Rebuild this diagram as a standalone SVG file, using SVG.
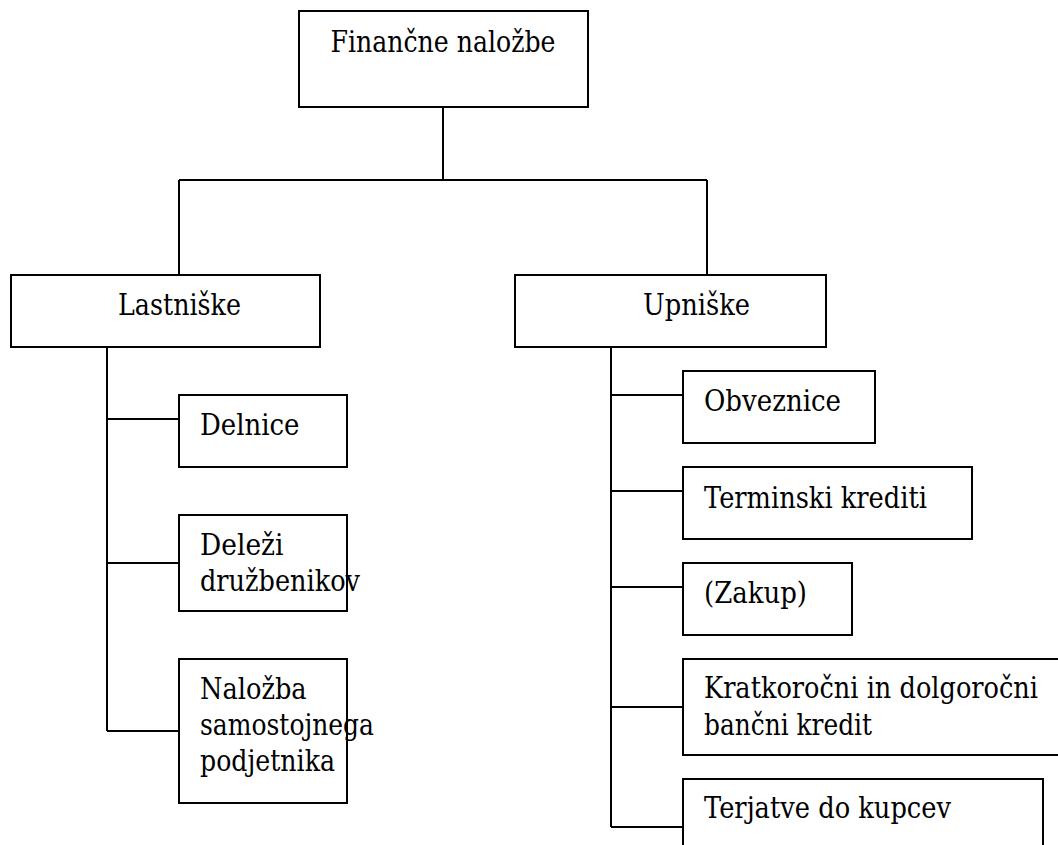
<svg xmlns="http://www.w3.org/2000/svg" width="1058" height="845" viewBox="0 0 1058 845">
<style>
.box{fill:#fff;stroke:#000;stroke-width:2}
.ln{fill:none;stroke:#000;stroke-width:2}
.t{font-family:'DejaVu Serif',serif;font-size:29px;fill:#000}
.c{text-anchor:middle}
</style>
<rect width="1058" height="845" fill="#fff"/>
<g id="connectors">
<path class="ln" d="M443 107V180M179 180H707M179 180V275M707 180V275"/>
<path class="ln" d="M107 347V731M107 419H179M107 563H179M107 731H179"/>
<path class="ln" d="M611 347V827M611 395H683M611 491H683M611 587H683M611 707H683M611 827H683"/>
</g>
<g id="n-financne"><rect class="box" x="299" y="11" width="289" height="96"/><text class="t c" x="443" y="52" textLength="225" lengthAdjust="spacingAndGlyphs">Finančne naložbe</text></g>
<g id="n-lastniske"><rect class="box" x="11" y="275" width="309" height="72"/><text class="t" x="118" y="315" textLength="123" lengthAdjust="spacingAndGlyphs">Lastniške</text></g>
<g id="n-upniske"><rect class="box" x="515" y="275" width="311" height="72"/><text class="t" x="643" y="315" textLength="107" lengthAdjust="spacingAndGlyphs">Upniške</text></g>
<g id="n-delnice"><rect class="box" x="179" y="395" width="168" height="72"/><text class="t" x="200" y="435" textLength="99.5" lengthAdjust="spacingAndGlyphs">Delnice</text></g>
<g id="n-delezi"><rect class="box" x="179" y="515" width="168" height="96"/><text class="t" x="200" y="555" textLength="83.5" lengthAdjust="spacingAndGlyphs">Deleži</text><text class="t" x="200" y="591" textLength="160" lengthAdjust="spacingAndGlyphs">družbenikov</text></g>
<g id="n-nalozba"><rect class="box" x="179" y="659" width="168" height="144"/><text class="t" x="200" y="699" textLength="106.6" lengthAdjust="spacingAndGlyphs">Naložba</text><text class="t" x="200" y="735" textLength="174" lengthAdjust="spacingAndGlyphs">samostojnega</text><text class="t" x="200" y="771" textLength="135" lengthAdjust="spacingAndGlyphs">podjetnika</text></g>
<g id="n-obveznice"><rect class="box" x="683" y="371" width="192" height="72"/><text class="t" x="704" y="411" textLength="137" lengthAdjust="spacingAndGlyphs">Obveznice</text></g>
<g id="n-terminski"><rect class="box" x="683" y="467" width="289" height="72"/><text class="t" x="704" y="508" textLength="223" lengthAdjust="spacingAndGlyphs">Terminski krediti</text></g>
<g id="n-zakup"><rect class="box" x="683" y="563" width="169" height="72"/><text class="t" x="704" y="603" textLength="103" lengthAdjust="spacingAndGlyphs">(Zakup)</text></g>
<g id="n-kratkorocni"><rect class="box" x="683" y="659" width="390" height="96"/><text class="t" x="704" y="698" textLength="334" lengthAdjust="spacingAndGlyphs">Kratkoročni in dolgoročni</text><text class="t" x="704" y="735" textLength="168" lengthAdjust="spacingAndGlyphs">bančni kredit</text></g>
<g id="n-terjatve"><rect class="box" x="683" y="779" width="360" height="90"/><text class="t" x="704" y="818" textLength="247" lengthAdjust="spacingAndGlyphs">Terjatve do kupcev</text></g>
</svg>
